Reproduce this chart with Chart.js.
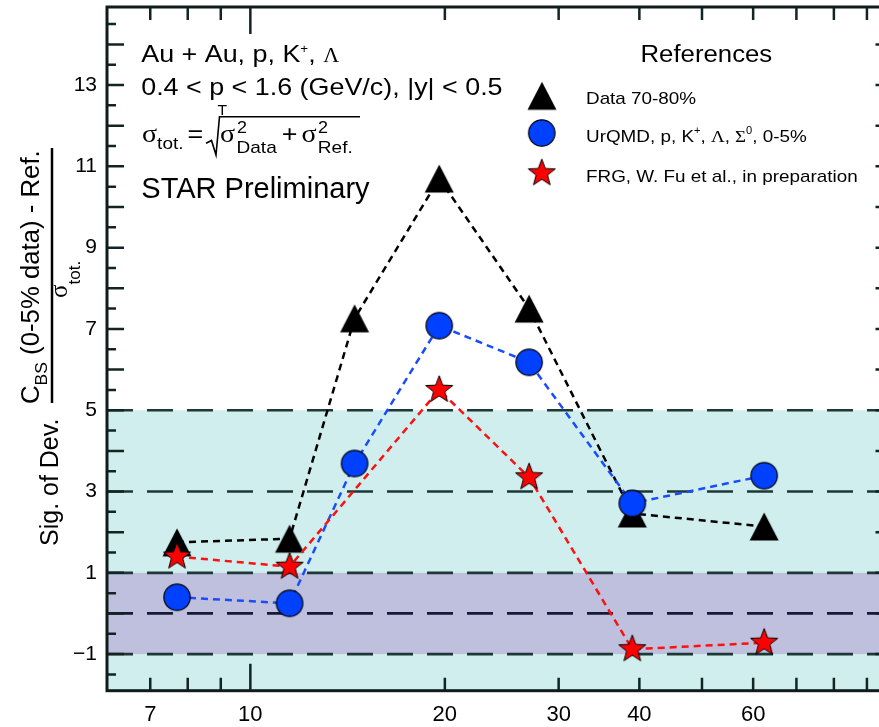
<!DOCTYPE html>
<html>
<head>
<meta charset="utf-8">
<script src="https://cdn.jsdelivr.net/npm/chart.js@4/dist/chart.umd.min.js"></script>
<style>
  html, body { margin: 0; padding: 0; overflow: hidden; background: #fff; }
  canvas { display: block; }
</style>
</head>
<body>
<canvas id="chart" width="903" height="727"></canvas>
<script>
// Collision energies (GeV) of the beam energy scan
const energies = [7.7, 11.5, 14.5, 19.6, 27, 39, 62.4];
// Significance of deviation for each reference
const data7080 = [1.75, 1.84, 7.26, 10.70, 7.50, 2.46, 2.14];
const urqmd    = [0.40, 0.25, 3.69, 7.08, 6.18, 2.71, 3.39];
const frg      = [1.40, 1.15, null, 5.50, 3.35, -0.88, -0.72];

// Axis ticks
const xTickValues = [7, 8, 9, 10, 20, 30, 40, 50, 60, 70, 80, 90];
const xTickLabels = [7, 10, 20, 30, 40, 60];
const yTickLabels = [-1, 1, 3, 5, 7, 9, 11, 13];
const yRange = [-1.9, 14.92];

// Significance bands and reference levels
const wideBand = [yRange[0], 5];
const narrowBand = [-1, 1];
const dashLevels = [5, 3, 1, 0, -1];

const SANS = '"Liberation Sans", Arial, sans-serif';
const SERIF = '"Liberation Serif", "Times New Roman", serif';

// ---- marker images ----
function makeTriangle() {
  const c = document.createElement('canvas');
  c.width = 32; c.height = 31;
  const g = c.getContext('2d');
  g.beginPath();
  g.moveTo(16, 1.5); g.lineTo(30.5, 29.5); g.lineTo(1.5, 29.5); g.closePath();
  g.fillStyle = '#000'; g.fill();
  return c;
}
function makeCircle() {
  const c = document.createElement('canvas');
  c.width = 30; c.height = 30;
  const g = c.getContext('2d');
  g.beginPath(); g.arc(15, 15, 13.2, 0, Math.PI * 2);
  g.fillStyle = '#0040ff'; g.fill();
  g.lineWidth = 1.2; g.strokeStyle = '#000'; g.stroke();
  return c;
}
function makeStar() {
  const c = document.createElement('canvas');
  c.width = 32; c.height = 32;
  const g = c.getContext('2d');
  const R = 14.2, r = R * 0.42, cx = 16, cy = 16;
  g.beginPath();
  for (let i = 0; i < 10; i++) {
    const rad = (i % 2 === 0) ? R : r;
    const a = -Math.PI / 2 + i * Math.PI / 5;
    const px = cx + rad * Math.cos(a), py = cy + rad * Math.sin(a);
    if (i === 0) g.moveTo(px, py); else g.lineTo(px, py);
  }
  g.closePath();
  g.fillStyle = '#ff0000'; g.fill();
  g.lineWidth = 1; g.strokeStyle = '#000'; g.lineJoin = 'miter'; g.stroke();
  return c;
}
const triImg = makeTriangle();
const circImg = makeCircle();
const starImg = makeStar();

// ---- text helpers ----
function drawParts(ctx, parts, sx) {
  let cx = 0;
  for (const p of parts) {
    ctx.font = p.f;
    const s = p.sx !== undefined ? p.sx : sx;
    let x0 = cx;
    if (p.x !== undefined) x0 = p.x;
    ctx.save();
    ctx.translate(x0, p.y);
    ctx.scale(s, 1);
    ctx.fillText(p.t, 0, 0);
    ctx.restore();
    if (!p.float) cx = x0 + ctx.measureText(p.t).width * s;
  }
}
function rotated(ctx, x, y, fn) {
  ctx.save();
  ctx.translate(x, y);
  ctx.rotate(-Math.PI / 2);
  fn();
  ctx.restore();
}

const decor = {
  id: 'decor',
  beforeDatasetsDraw(chart) {
    const { ctx, chartArea: a, scales: { y } } = chart;
    ctx.save();
    ctx.beginPath();
    ctx.rect(a.left, a.top, a.right - a.left, a.bottom - a.top);
    ctx.clip();
    let t = y.getPixelForValue(wideBand[1]), b = y.getPixelForValue(wideBand[0]);
    ctx.fillStyle = '#cfeeed';
    ctx.fillRect(a.left, t, a.right - a.left, b - t);
    t = y.getPixelForValue(narrowBand[1]); b = y.getPixelForValue(narrowBand[0]);
    ctx.fillStyle = '#bfc0de';
    ctx.fillRect(a.left, t, a.right - a.left, b - t);
    ctx.setLineDash([26, 14]);
    ctx.lineWidth = 2.7;
    for (const v of dashLevels) {
      const py = y.getPixelForValue(v);
      ctx.strokeStyle = v === 0 ? '#161a3a' : '#1e3838';
      ctx.beginPath();
      ctx.moveTo(a.left, py);
      ctx.lineTo(a.right, py);
      ctx.stroke();
    }
    ctx.restore();
  },
  afterDraw(chart) {
    const { ctx, chartArea: a, scales: { x, y } } = chart;
    ctx.save();
    // inward tick marks on all four sides
    ctx.strokeStyle = '#122424';
    ctx.lineWidth = 2.5;
    for (const tk of y.ticks) {
      const py = y.getPixelForValue(tk.value);
      const isInt = Math.abs(tk.value - Math.round(tk.value)) < 1e-6;
      const L = isInt ? 17 : 9;
      ctx.beginPath();
      ctx.moveTo(a.left, py); ctx.lineTo(a.left + L, py);
      ctx.moveTo(a.right, py); ctx.lineTo(a.right - (isInt ? 21 : 12), py);
      ctx.stroke();
    }
    for (const tk of x.ticks) {
      const px = x.getPixelForValue(tk.value);
      const dec = Math.abs(Math.log10(tk.value) - Math.round(Math.log10(tk.value))) < 1e-6;
      const L = dec ? 27 : 13;
      ctx.beginPath();
      ctx.moveTo(px, a.bottom); ctx.lineTo(px, a.bottom - L);
      ctx.moveTo(px, a.top); ctx.lineTo(px, a.top + L);
      ctx.stroke();
    }
    // frame
    ctx.strokeStyle = '#0f1c1c';
    ctx.lineWidth = 3;
    ctx.strokeRect(a.left, a.top, a.right - a.left, a.bottom - a.top);

    ctx.fillStyle = '#000';
    ctx.textBaseline = 'alphabetic';
    ctx.textAlign = 'left';

    // annotations
    drawParts(ctx, [
      { t: 'Au + Au, p, K', f: `24px ${SANS}`, x: 141.2, y: 61.7 },
      { t: '+', f: `12px ${SANS}`, y: 53 },
      { t: ', ', f: `24px ${SANS}`, y: 61.7 },
      { t: '\u039B', f: `22px ${SERIF}`, y: 61.7, sx: 1.0 }
    ], 1.12);
    drawParts(ctx, [
      { t: '0.4 < p', f: `24px ${SANS}`, x: 141.2, y: 95 },
      { t: 'T', f: `14px ${SANS}`, x: 217.5, y: 115, float: true },
      { t: ' < 1.6 (GeV/c), |y| < 0.5', f: `24px ${SANS}`, y: 95 }
    ], 1.12);
    drawParts(ctx, [
      { t: '\u03C3', f: `25px ${SERIF}`, x: 142, y: 141.7 },
      { t: 'tot.', f: `17px ${SANS}`, y: 149 },
      { t: '=', f: `24px ${SANS}`, x: 187.5, y: 141.7 },
      { t: '\u03C3', f: `25px ${SERIF}`, x: 220, y: 141.7 },
      { t: '2', f: `16px ${SANS}`, x: 237, y: 132.7, float: true },
      { t: 'Data', f: `17px ${SANS}`, x: 236.5, y: 152.5 },
      { t: '+', f: `24px ${SANS}`, x: 281.8, y: 141.7 },
      { t: '\u03C3', f: `25px ${SERIF}`, x: 301.5, y: 141.7 },
      { t: '2', f: `16px ${SANS}`, x: 318, y: 132.7, float: true },
      { t: 'Ref.', f: `17px ${SANS}`, x: 317.8, y: 152.5 }
    ], 1.12);
    // square root sign
    ctx.strokeStyle = '#000';
    ctx.lineWidth = 1.6;
    ctx.setLineDash([]);
    ctx.beginPath();
    ctx.moveTo(206, 143.3); ctx.lineTo(211.5, 140.5);
    ctx.lineTo(216, 155); ctx.lineTo(219.5, 116.7); ctx.lineTo(360, 116.7);
    ctx.stroke();
    drawParts(ctx, [
      { t: 'STAR Preliminary', f: `29px ${SANS}`, x: 141.3, y: 198 }
    ], 1.0);

    // legend
    drawParts(ctx, [{ t: 'References', f: `23px ${SANS}`, x: 640.5, y: 61.7 }], 1.12);
    ctx.drawImage(triImg, 542 - triImg.width / 2, 95.8 - triImg.height / 2);
    ctx.drawImage(circImg, 541.8 - circImg.width / 2, 133 - circImg.height / 2);
    ctx.drawImage(starImg, 541.8 - starImg.width / 2, 173.3 - starImg.height / 2);
    drawParts(ctx, [{ t: 'Data 70-80%', f: `17px ${SANS}`, x: 586, y: 104 }], 1.11);
    drawParts(ctx, [
      { t: 'UrQMD, p, K', f: `17px ${SANS}`, x: 586, y: 141.7 },
      { t: '+', f: `10px ${SANS}`, y: 134 },
      { t: ', ', f: `17px ${SANS}`, y: 141.7 },
      { t: '\u039B', f: `17px ${SERIF}`, y: 141.7 },
      { t: ', ', f: `17px ${SANS}`, y: 141.7 },
      { t: '\u03A3', f: `17px ${SERIF}`, y: 141.7 },
      { t: '0', f: `10px ${SANS}`, y: 134 },
      { t: ', 0-5%', f: `17px ${SANS}`, y: 141.7 }
    ], 1.11);
    drawParts(ctx, [{ t: 'FRG, W. Fu et al., in preparation', f: `17px ${SANS}`, x: 586, y: 181.7 }], 1.11);

    // y-axis title
    rotated(ctx, 58, 546, () => {
      drawParts(ctx, [{ t: 'Sig. of Dev.', f: `25px ${SANS}`, x: 0, y: 0 }], 1.0);
    });
    rotated(ctx, 39, 404, () => {
      drawParts(ctx, [
        { t: 'C', f: `25px ${SANS}`, x: 0, y: 0 },
        { t: 'BS', f: `17px ${SANS}`, y: 8 },
        { t: ' (0-5% data) - Ref.', f: `25px ${SANS}`, y: 0 }
      ], 1.03);
    });
    ctx.lineWidth = 2.5;
    ctx.beginPath();
    ctx.moveTo(52, 148); ctx.lineTo(52, 403);
    ctx.stroke();
    rotated(ctx, 67, 298, () => {
      drawParts(ctx, [
        { t: '\u03C3', f: `25px ${SERIF}`, x: 0, y: 0 },
        { t: 'tot.', f: `17px ${SANS}`, y: 13 }
      ], 1.0);
    });
    ctx.restore();
  }
};

const pts = (ys) => energies.map((e, i) => ({ x: e, y: ys[i] }));

new Chart(document.getElementById('chart'), {
  type: 'line',
  data: {
    datasets: [
      { label: 'Data 70-80%', data: pts(data7080), borderColor: '#000', borderWidth: 2.5,
        borderDash: [7, 5], pointStyle: triImg, order: 3, fill: false, tension: 0 },
      { label: 'UrQMD, p, K+, \u039B, \u03A30, 0-5%', data: pts(urqmd), borderColor: '#1a4cff', borderWidth: 2.5,
        borderDash: [7, 5], pointStyle: circImg, order: 2, fill: false, tension: 0 },
      { label: 'FRG, W. Fu et al., in preparation', data: pts(frg), borderColor: '#ff1010', borderWidth: 2.5,
        borderDash: [7, 5], pointStyle: starImg, order: 1, fill: false, tension: 0, spanGaps: true }
    ]
  },
  options: {
    responsive: false,
    animation: false,
    devicePixelRatio: 1,
    layout: { padding: { top: 7, right: 4, left: 0, bottom: 0 } },
    plugins: { legend: { display: false }, tooltip: { enabled: false } },
    scales: {
      x: {
        type: 'logarithmic', min: 6, max: 100, position: 'bottom',
        afterBuildTicks: (s) => { s.ticks = xTickValues.map(v => ({ value: v })); },
        afterFit: (s) => { s.height = 36.3; s.paddingLeft = 0; s.paddingRight = 0; s.paddingTop = 0; s.paddingBottom = 0; },
        grid: { display: false, drawTicks: false },
        border: { display: false },
        ticks: {
          autoSkip: false, maxRotation: 0, minRotation: 0, padding: 11, color: '#000',
          font: { family: SANS, size: 22 },
          callback: (v) => xTickLabels.includes(v) ? String(v) : ''
        }
      },
      y: {
        type: 'linear', min: yRange[0], max: yRange[1],
        afterBuildTicks: (s) => {
          const t = [];
          for (let v = -1.5; v <= 14.5 + 1e-9; v += 0.5) t.push({ value: v });
          s.ticks = t;
        },
        afterFit: (s) => { s.width = 107; s.paddingLeft = 0; s.paddingRight = 0; s.paddingTop = 0; s.paddingBottom = 0; },
        grid: { display: false, drawTicks: false },
        border: { display: false },
        ticks: {
          autoSkip: false, padding: 10, color: '#000',
          font: { family: SANS, size: 21 },
          callback: (v) => yTickLabels.includes(v) ? (v < 0 ? '\u2212' + Math.abs(v) : String(v)) : ''
        }
      }
    }
  },
  plugins: [decor]
});
</script>
</body>
</html>
